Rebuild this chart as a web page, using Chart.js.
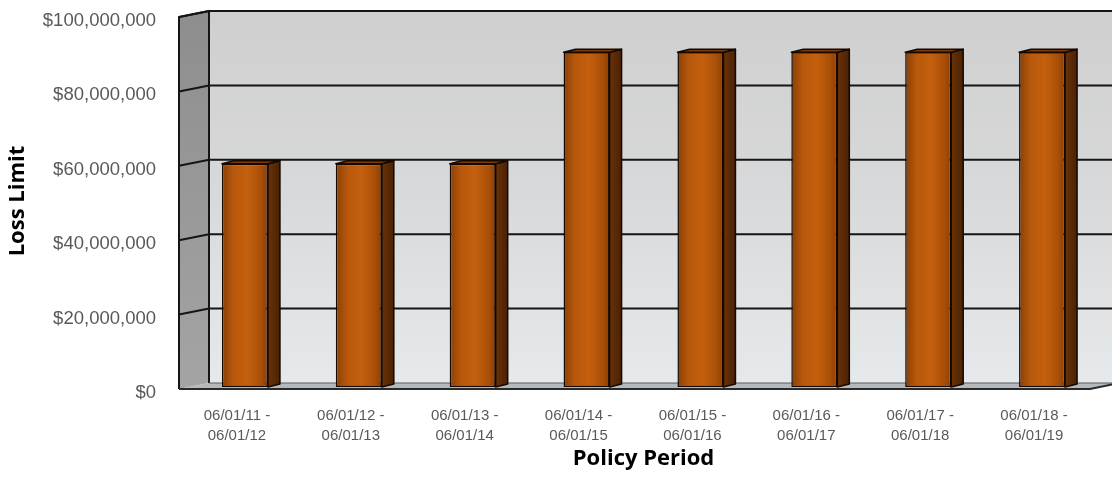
<!DOCTYPE html>
<html>
<head>
<meta charset="utf-8">
<script src="https://cdn.jsdelivr.net/npm/chart.js@4.4.1/dist/chart.umd.min.js"></script>
<style>
  html, body { margin: 0; padding: 0; background: #fff; }
</style>
</head>
<body>
<canvas id="myChart" width="1112" height="480"></canvas>
<script>
'use strict';

// -------------------- data --------------------
const periods = [
  ['06/01/11 -', '06/01/12'],
  ['06/01/12 -', '06/01/13'],
  ['06/01/13 -', '06/01/14'],
  ['06/01/14 -', '06/01/15'],
  ['06/01/15 -', '06/01/16'],
  ['06/01/16 -', '06/01/17'],
  ['06/01/17 -', '06/01/18'],
  ['06/01/18 -', '06/01/19']
];
const lossLimits = [60000000, 60000000, 60000000, 90000000, 90000000, 90000000, 90000000, 90000000];
const yTicks = [0, 20000000, 40000000, 60000000, 80000000, 100000000];

// -------------------- 3D look --------------------
// bars sit in the middle; walls are shifted from the bar plane
const FRONT = {dx: -9, dy: 2};
const BACK = {dx: 21, dy: -4};
const BAR_DEPTH = {dx: 12, dy: -3};
const BAR_PCT = 0.404;
const LABEL_FONT = '"Liberation Sans", Arial, sans-serif';

{
  const walls = {
    id: 'walls',
    beforeDatasetsDraw(chart) {
      const {ctx, chartArea: a, scales: {y}} = chart;
      const W = chart.width;
      const yMax = yTicks[yTicks.length - 1];
      const fl = a.left + FRONT.dx;
      const bl = a.left + BACK.dx;
      const bTop = y.getPixelForValue(yMax) + BACK.dy;
      const bBot = y.getPixelForValue(0) + BACK.dy;
      const fTop = y.getPixelForValue(yMax) + FRONT.dy;
      const fBot = y.getPixelForValue(0) + FRONT.dy;

      ctx.save();

      // back wall
      let g = ctx.createLinearGradient(0, bTop, 0, bBot);
      g.addColorStop(0, '#cfcfcf');
      g.addColorStop(0.5, '#d8d9da');
      g.addColorStop(1, '#e6e9eb');
      ctx.fillStyle = g;
      ctx.fillRect(bl, bTop, W - bl + 40, bBot - bTop);

      // side wall
      g = ctx.createLinearGradient(0, fTop, 0, fBot);
      g.addColorStop(0, '#8e8e8e');
      g.addColorStop(1, '#a4a4a4');
      ctx.fillStyle = g;
      ctx.beginPath();
      ctx.moveTo(fl, fTop);
      ctx.lineTo(bl, bTop);
      ctx.lineTo(bl, bBot);
      ctx.lineTo(fl, fBot);
      ctx.closePath();
      ctx.fill();

      // grid lines on back and side wall
      ctx.strokeStyle = '#151515';
      ctx.lineWidth = 2;
      yTicks.forEach(v => {
        if (v === 0) return;
        const py = y.getPixelForValue(v);
        ctx.beginPath();
        ctx.moveTo(fl, py + FRONT.dy);
        ctx.lineTo(bl, py + BACK.dy);
        ctx.lineTo(W + 40, py + BACK.dy);
        ctx.stroke();
      });

      // wall outlines
      ctx.beginPath();
      ctx.moveTo(fl, fBot);
      ctx.lineTo(fl, fTop);
      ctx.lineTo(bl, bTop);
      ctx.lineTo(bl, bBot);
      ctx.stroke();

      // floor
      const fr = a.right + FRONT.dx;
      const br = a.right + BACK.dx;
      ctx.fillStyle = '#b4b9bd';
      ctx.beginPath();
      ctx.moveTo(fl, fBot);
      ctx.lineTo(fr, fBot);
      ctx.lineTo(br, bBot);
      ctx.lineTo(bl, bBot);
      ctx.closePath();
      ctx.fill();
      ctx.lineWidth = 1.2;
      ctx.strokeStyle = '#5a5f63';
      ctx.beginPath();
      ctx.moveTo(bl, bBot);
      ctx.lineTo(br, bBot);
      ctx.stroke();
      ctx.lineWidth = 2;
      ctx.strokeStyle = '#2a2a2a';
      ctx.beginPath();
      ctx.moveTo(fl, fBot);
      ctx.lineTo(fr, fBot);
      ctx.lineTo(br, bBot);
      ctx.stroke();

      ctx.restore();
    },
    afterDatasetsDraw(chart) {
      const {ctx} = chart;
      const meta = chart.getDatasetMeta(0);
      ctx.save();
      ctx.lineWidth = 1.5;
      ctx.strokeStyle = '#140800';
      ctx.lineJoin = 'round';
      meta.data.forEach(bar => {
        const {x, y, base, width} = bar.getProps(['x', 'y', 'base', 'width'], true);
        const l = x - width / 2;
        const r = x + width / 2;

        // side face
        const g = ctx.createLinearGradient(r, 0, r + BAR_DEPTH.dx, 0);
        g.addColorStop(0, '#6a3208');
        g.addColorStop(1, '#4a2204');
        ctx.fillStyle = g;
        ctx.beginPath();
        ctx.moveTo(r, y);
        ctx.lineTo(r + BAR_DEPTH.dx, y + BAR_DEPTH.dy);
        ctx.lineTo(r + BAR_DEPTH.dx, base + BAR_DEPTH.dy);
        ctx.lineTo(r, base);
        ctx.closePath();
        ctx.fill();
        ctx.stroke();

        // top face
        ctx.fillStyle = '#7c3a06';
        ctx.beginPath();
        ctx.moveTo(l, y);
        ctx.lineTo(l + BAR_DEPTH.dx, y + BAR_DEPTH.dy);
        ctx.lineTo(r + BAR_DEPTH.dx, y + BAR_DEPTH.dy);
        ctx.lineTo(r, y);
        ctx.closePath();
        ctx.fill();
        ctx.stroke();
      });
      ctx.restore();
    }
  };

  function frontFill(c) {
    const chart = c.chart;
    const a = chart.chartArea;
    if (!a || c.dataIndex === undefined) return '#b8580a';
    const cx = chart.scales.x.getPixelForValue(c.dataIndex);
    const w = (a.right - a.left) / periods.length * BAR_PCT;
    const g = chart.ctx.createLinearGradient(cx - w / 2, 0, cx + w / 2, 0);
    g.addColorStop(0, '#8a3f04');
    g.addColorStop(0.25, '#b8580c');
    g.addColorStop(0.55, '#c4600e');
    g.addColorStop(0.85, '#a94f08');
    g.addColorStop(1, '#8a3f04');
    return g;
  }

  const ctx = document.getElementById('myChart').getContext('2d');
  const myChart = new Chart(ctx, {
    type: 'bar',
    data: {
      labels: periods,
      datasets: [{
        label: 'Loss Limit',
        data: lossLimits,
        backgroundColor: frontFill,
        borderColor: '#140800',
        borderWidth: 1.5,
        borderSkipped: false,
        categoryPercentage: 1,
        barPercentage: BAR_PCT
      }]
    },
    options: {
      responsive: false,
      animation: false,
      devicePixelRatio: 1,
      layout: {
        padding: {left: 0, right: 13, top: 15, bottom: 0}
      },
      plugins: {
        legend: {display: false},
        tooltip: {enabled: false}
      },
      scales: {
        x: {
          grid: {display: false},
          border: {display: false},
          afterFit: s => {
            s.height = 93;
            s.paddingLeft = 0;
            s.paddingRight = 0;
          },
          ticks: {
            autoSkip: false,
            maxRotation: 0,
            padding: 11,
            labelOffset: -8,
            color: '#595959',
            font: {family: LABEL_FONT, size: 15, lineHeight: '20px'}
          },
          title: {
            display: true,
            text: 'Policy Period',
            color: '#000',
            padding: {top: 0, bottom: 8},
            font: {family: '"Open Sans", sans-serif', size: 22, weight: 'bold', lineHeight: 1.2}
          }
        },
        y: {
          min: 0,
          max: 100000000,
          grid: {display: false},
          border: {display: false},
          afterFit: s => {
            s.width = 188;
            s.paddingTop = 0;
            s.paddingBottom = 0;
          },
          afterBuildTicks: s => { s.ticks = yTicks.map(v => ({value: v})); },
          ticks: {
            padding: 24,
            labelOffset: 6,
            color: '#595959',
            font: {family: LABEL_FONT, size: 18.5},
            callback: v => '$' + Number(v).toLocaleString('en-US')
          },
          title: {
            display: true,
            text: 'Loss Limit',
            color: '#000',
            padding: {top: 5, bottom: 0},
            font: {family: '"Open Sans", sans-serif', size: 22, weight: 'bold', lineHeight: 1.2}
          }
        }
      }
    },
    plugins: [walls]
  });
}
</script>
</body>
</html>
